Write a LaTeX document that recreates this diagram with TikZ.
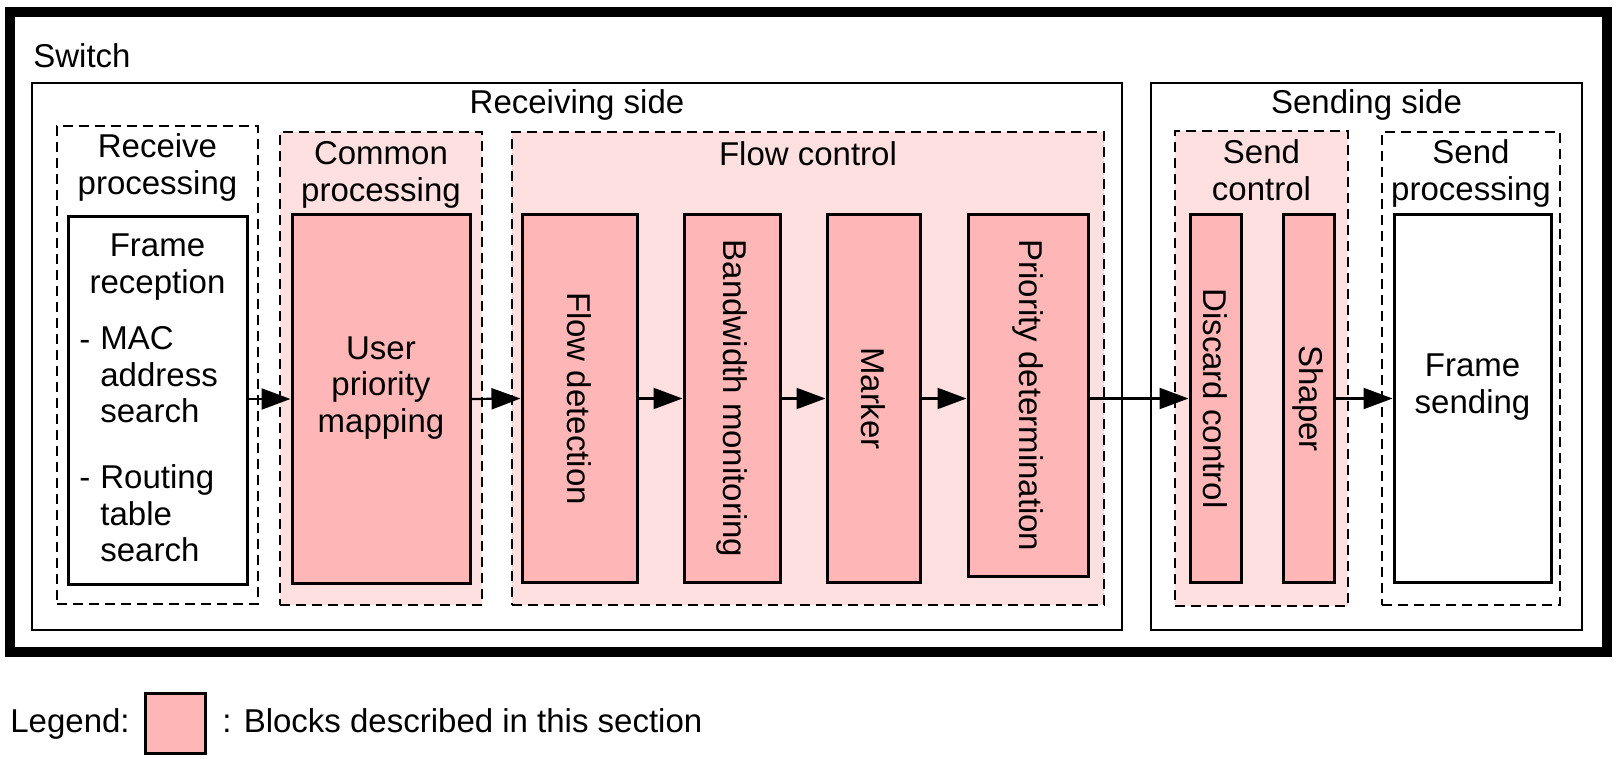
\documentclass[tikz,border=0pt]{standalone}
\usepackage{fontspec}
\setmainfont{Liberation Sans}
\usetikzlibrary{arrows.meta,fit}
\definecolor{lichtroze}{RGB}{255,224,224}
\definecolor{roze}{RGB}{255,182,182}
\tikzset{
    tekst/.style={inner sep=0pt, font=\fontsize{16.5}{18.25}\selectfont},
    kader/.style={draw, line width=1.3pt, inner sep=0pt},
    groep/.style={draw, line width=1.15pt, dash pattern=on 5pt off 3pt, inner sep=0pt},
    blok/.style={tekst, draw, line width=1.5pt, fill=white},
    blokr/.style={blok, fill=roze},
    pijl/.style={-{Triangle[length=14.5pt,width=10.5pt]}, line width=1.1pt},
}
\NewDocumentCommand{\staand}{O{blokr} m m m m}{ % stijl, naam, hoek linksboven, hoek rechtsonder, tekst
    \node[#1, fit={#3 #4}] (#2) {};
    \node[tekst, rotate=-90] (#2-t) at (#2.center) {#5};
}

\begin{document}
\begin{tikzpicture}[x=0.5pt, y=-0.5pt]
    \useasboundingbox (0,0) rectangle (1616,759);
    \node[draw, line width=4.75pt, inner sep=0pt, fit={(10,12) (1607,652)}] (switch) {};
    \node[tekst, anchor=base west] (switch-t) at (33,68) {Switch};

    \node[kader, fit={(32,83) (1122,630)}] (ontvang) {};
    \node[tekst, anchor=north] (ontvang-t) at (ontvang.north |- 0,89.5) {Receiving side};
    \node[kader, fit={(1151,83) (1582,630)}] (zend) {};
    \node[tekst, anchor=north] (zend-t) at (zend.north |- 0,89.5) {Sending side};

    % groepen
    \node[groep, fit={(57,126) (258,604)}] (rp) {};
    \node[tekst, anchor=north, align=center] (rp-t) at (rp.north |- 0,133.4) {Receive\\processing};
    \node[groep, fill=lichtroze, fit={(280,132) (482,605)}] (cp) {};
    \node[tekst, anchor=north, align=center] (cp-t) at (cp.north |- 0,141.4) {Common\\processing};
    \node[groep, fill=lichtroze, fit={(512,132) (1104,605)}] (fc) {};
    \node[tekst, anchor=north] (fc-t) at (fc.north |- 0,141.4) {Flow control};
    \node[groep, fill=lichtroze, fit={(1175,131) (1348,606)}] (sc) {};
    \node[tekst, anchor=north, align=center] (sc-t) at (sc.north |- 0,139.4) {Send\\control};
    \node[groep, fit={(1382,132) (1560,605)}] (sp) {};
    \node[tekst, anchor=north, align=center] (sp-t) at (sp.north |- 0,139.4) {Send\\processing};

    % blokken
    \node[blok, fit={(68,217) (247,584)}] (fr) {};
    \node[tekst, anchor=north, align=center] (fr-t) at (fr.north |- 0,233.4) {Frame\\reception};
    \node[tekst, anchor=base west] (fr-s1) at (79,350) {-};
    \node[tekst, anchor=north west, align=left] (fr-l1) at (100,326.4) {MAC\\address\\search};
    \node[tekst, anchor=base west] (fr-s2) at (79,488) {-};
    \node[tekst, anchor=north west, align=left] (fr-l2) at (100,464.4) {Routing\\table\\search};

    \node[blokr, align=center, fit={(292,215) (470,583)}] (upm) {User\\priority\\mapping};
    \staand{fd}{(522,215)}{(637,582)}{Flow detection}
    \staand{bm}{(684,215)}{(780,582)}{Bandwidth monitoring}
    \staand{mk}{(827,215)}{(920,582)}{Marker}
    \staand{pd}{(968,215)}{(1088,576)}{Priority determination}
    \staand{dc}{(1190,215)}{(1241,582)}{Discard control}
    \staand{sh}{(1283,215)}{(1334,582)}{Shaper}
    \node[blok, align=center, fit={(1394,215) (1551,582)}] (fs) {Frame\\sending};

    \draw[pijl] (fr.east |- upm.west) -- (upm.west);
    \draw[pijl] (upm.east) -- (fd.west);
    \foreach \a/\b in {fd/bm, bm/mk, mk/pd}
        \draw[pijl] (\a.east) -- (\a.east -| \b.west);
    \draw[pijl] (pd.east |- dc.west) -- (dc.west);
    \draw[pijl] (sh.east) -- (fs.west);

    \node[tekst, anchor=base west] (leg) at (10,732) {Legend:};
    \node[blokr, fit={(145,693) (205,753)}] (leg-b) {};
    \node[tekst, anchor=base west] (leg-t) at (222,732) {: Blocks described in this section};
\end{tikzpicture}
\end{document}
